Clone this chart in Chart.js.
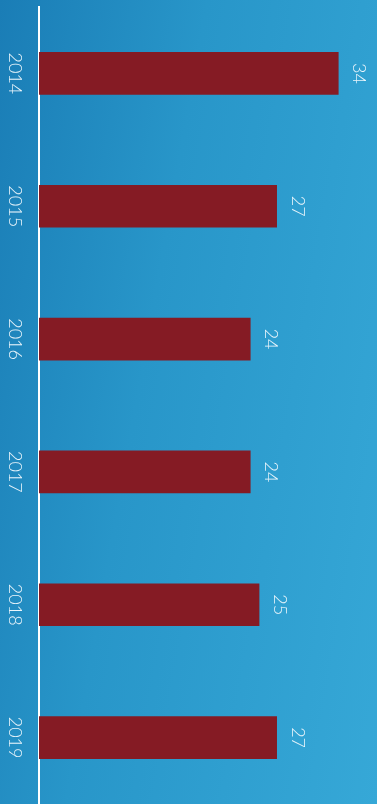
<!DOCTYPE html>
<html lang="en">
<head>
  <meta charset="UTF-8">
  <title>2014–2019</title>
  <script src="https://cdn.jsdelivr.net/npm/chart.js"></script>
  <style>
    html, body { margin: 0; padding: 0; }
    body {
      width: 377px; height: 804px; overflow: hidden;
      background: linear-gradient(100deg, #1a7db6 0%, #2896c9 40%, #36a8d7 100%);
    }
    #wrap { position: relative; width: 377px; height: 804px; }
  </style>
</head>
<body>
  <div id="wrap"><canvas id="chart"></canvas></div>

  <script>
    const years = ['2014', '2015', '2016', '2017', '2018', '2019'];
    const values = [34, 27, 24, 24, 25, 27];

    // rotated labels: years left of the axis, values after each bar end
    const rotatedLabels = {
      id: 'rotatedLabels',
      afterDatasetsDraw(chart) {
        const { ctx, scales: { x, y } } = chart;
        ctx.save();
        ctx.fillStyle = '#eaf5fb';
        ctx.font = '300 18px Lato, "Open Sans", sans-serif';
        ctx.textAlign = 'center';
        ctx.textBaseline = 'middle';
        years.forEach((yr, i) => {
          const py = y.getPixelForValue(i);
          ctx.save();
          ctx.translate(15, py);
          ctx.rotate(Math.PI / 2);
          ctx.fillText(yr, 0, 0);
          ctx.restore();

          ctx.save();
          ctx.translate(x.getPixelForValue(values[i]) + 21, py);
          ctx.rotate(Math.PI / 2);
          ctx.fillText(String(values[i]), 0, 0);
          ctx.restore();
        });
        ctx.restore();
      }
    };

    const ctx = document.getElementById('chart').getContext('2d');
    new Chart(ctx, {
      type: 'bar',
      data: {
        labels: years,
        datasets: [{
          data: values,
          backgroundColor: '#851b24',
          borderWidth: 0,
          barThickness: 42
        }]
      },
      options: {
        indexAxis: 'y',
        responsive: true,
        maintainAspectRatio: false,
        animation: false,
        layout: { padding: { left: 39, top: 7, right: 0, bottom: 0 } },
        plugins: { legend: { display: false }, tooltip: { enabled: false } },
        scales: {
          x: { min: 0, max: 38.4, display: false },
          y: {
            offset: true,
            ticks: { display: false },
            grid: { display: false, drawTicks: false },
            border: { display: true, color: '#ffffff', width: 2 }
          }
        }
      },
      plugins: [rotatedLabels]
    });
  </script>
</body>
</html>
